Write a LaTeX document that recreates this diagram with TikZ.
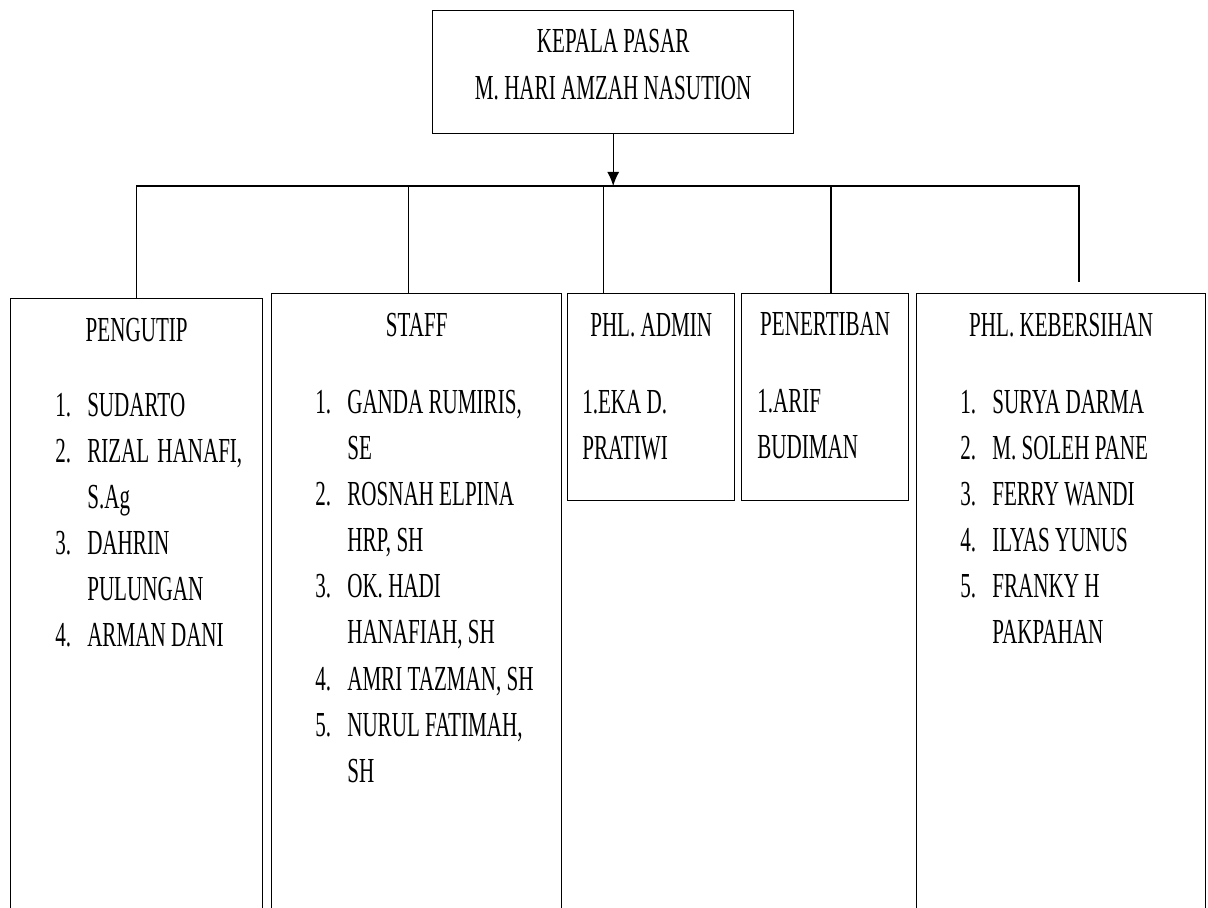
\documentclass[tikz,border=0pt]{standalone}
\usepackage{fontspec}
\setmainfont{Liberation Serif}[FakeStretch=0.6]
\usepackage{array}
\usetikzlibrary{arrows.meta, positioning, calc}

\begin{document}
\begin{tikzpicture}[
  box/.style={draw, line width=1pt, anchor=north west, inner sep=0pt},
  head/.style={font=\fontsize{25}{32.85}\selectfont, inner sep=0pt, anchor=base},
  roster/.style={font=\fontsize{25}{32.85}\selectfont, inner sep=0pt, anchor=base west},
  wire/.style={line width=1pt},
  arr/.style={-{Latex[length=0.35cm, width=0.3cm]}, line width=1pt},
]
\clip (0,0) rectangle (30.2,-22.7);
\useasboundingbox (0,0) rectangle (30.2,-22.7);

% Kepala pasar
\node[box, minimum width=9.025cm, minimum height=3.075cm] (boss) at (10.8,-0.25) {};
\node[head] (bossText) at ([yshift=-1.075cm]boss.north)
  {\begin{tabular}[t]{@{}c@{}}KEPALA PASAR\\M. HARI AMZAH NASUTION\end{tabular}};

% Units
\node[box, minimum width=6.3cm, minimum height=15.25cm] (pengutip) at (0.25,-7.45) {};
\node[box, minimum width=7.25cm, minimum height=15.375cm] (staff) at (6.775,-7.325) {};
\node[box, minimum width=4.175cm, minimum height=5.175cm] (admin) at (14.175,-7.325) {};
\node[box, minimum width=4.175cm, minimum height=5.175cm] (tertib) at (18.525,-7.325) {};
\node[box, minimum width=7.225cm, minimum height=15.375cm] (bersih) at (22.9,-7.325) {};

% Titles
\node[head] (tPengutip) at ([yshift=-1.1cm]pengutip.north) {PENGUTIP};
\node[head] (tStaff) at ([yshift=-1.1cm]staff.north) {STAFF};
\node[head] (tAdmin) at ([yshift=-1.1cm]admin.north) {PHL. ADMIN};
\node[head] (tTertib) at ([yshift=-1.05cm]tertib.north) {PENERTIBAN};
\node[head] (tBersih) at ([yshift=-1.1cm]bersih.north) {PHL. KEBERSIHAN};

% Names
\node[roster] (lPengutip) at ([xshift=1.125cm, yshift=-2.95cm]pengutip.north west)
  {\begin{tabular}[t]{@{}p{0.8cm}@{}l@{}}
   1. & SUDARTO\\
   2. & RIZAL\hspace{0.2cm}HANAFI,\\
      & S.Ag\\
   3. & DAHRIN\\
      & PULUNGAN\\
   4. & ARMAN DANI
   \end{tabular}};
\node[roster] (lStaff) at ([xshift=1.1cm, yshift=-3cm]staff.north west)
  {\begin{tabular}[t]{@{}p{0.8cm}@{}l@{}}
   1. & GANDA RUMIRIS,\\
      & SE\\
   2. & ROSNAH ELPINA\\
      & HRP, SH\\
   3. & OK. HADI\\
      & HANAFIAH, SH\\
   4. & AMRI TAZMAN, SH\\
   5. & NURUL FATIMAH,\\
      & SH
   \end{tabular}};
\node[roster] (lAdmin) at ([xshift=0.375cm, yshift=-3cm]admin.north west)
  {\begin{tabular}[t]{@{}l@{}}1.EKA D.\\PRATIWI\end{tabular}};
\node[roster] (lTertib) at ([xshift=0.4cm, yshift=-2.975cm]tertib.north west)
  {\begin{tabular}[t]{@{}l@{}}1.ARIF\\BUDIMAN\end{tabular}};
\node[roster] (lBersih) at ([xshift=1.1cm, yshift=-3cm]bersih.north west)
  {\begin{tabular}[t]{@{}p{0.8cm}@{}l@{}}
   1. & SURYA DARMA\\
   2. & M. SOLEH PANE\\
   3. & FERRY WANDI\\
   4. & ILYAS YUNUS\\
   5. & FRANKY H\\
      & PAKPAHAN
   \end{tabular}};

% Bus and drops
\coordinate (bus) at (0,-4.65);
\coordinate (staffTop) at ($(staff.north)+(-0.2,0)$);
\coordinate (adminTop) at ($(admin.north)+(-1.19,0)$);
\coordinate (tertibTop) at ($(tertib.north)+(0.14,0)$);
\coordinate (bersihTop) at ($(bersih.north)+(0.44,0.275)$);

\draw[arr] (boss.south) -- (boss.south |- bus);
\draw[wire] (pengutip.north) -- (pengutip.north |- bus) -- (bersihTop |- bus) -- (bersihTop);
\draw[wire] (staffTop) -- (staffTop |- bus);
\draw[wire] (adminTop) -- (adminTop |- bus);
\draw[wire] (tertibTop) -- (tertibTop |- bus);
\end{tikzpicture}
\end{document}
